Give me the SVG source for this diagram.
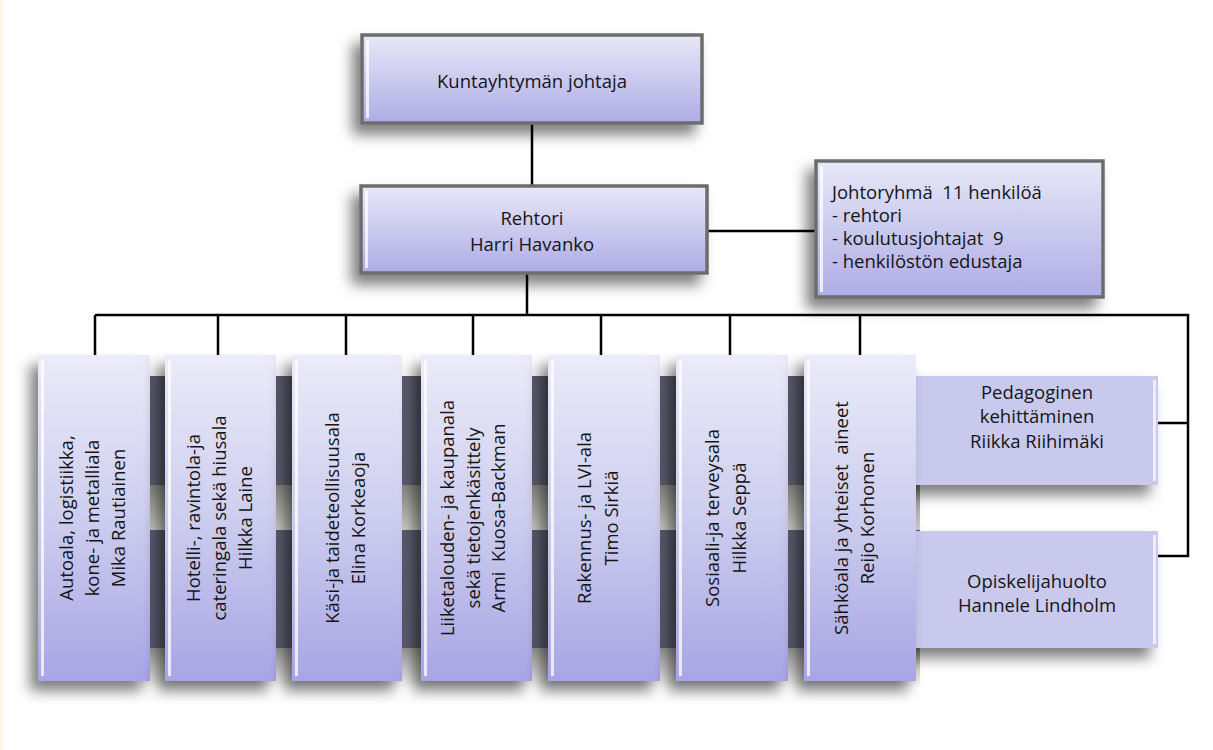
<svg xmlns="http://www.w3.org/2000/svg" width="1213" height="750" viewBox="0 0 1213 750">
<style>
text{font-family:"Open Sans","Noto Sans","Liberation Sans",sans-serif;font-size:18.5px;fill:#151515}
.c{text-anchor:middle}
.conn{fill:none;stroke:#000;stroke-width:2.5}
.hi{fill:#fff;opacity:.75}
</style>
<defs>
<linearGradient id="gv" x1="0" y1="0" x2="0" y2="1">
<stop offset="0" stop-color="#ebebf9"/>
<stop offset="0.5" stop-color="#cdcdef"/>
<stop offset="1" stop-color="#a7a5e4"/>
</linearGradient>
<linearGradient id="gh" x1="0" y1="0" x2="0" y2="1">
<stop offset="0" stop-color="#e8e8f8"/>
<stop offset="1" stop-color="#aeace6"/>
</linearGradient>
<linearGradient id="gs" x1="0" y1="0" x2="0" y2="1">
<stop offset="0" stop-color="#8a8a84"/>
<stop offset="1" stop-color="#d2d2cc"/>
</linearGradient>
<linearGradient id="gs2" x1="0" y1="0" x2="0" y2="1">
<stop offset="0" stop-color="#9a9a94"/>
<stop offset="1" stop-color="#ffffff"/>
</linearGradient>
<filter id="sh" x="-30%" y="-30%" width="160%" height="160%">
<feDropShadow dx="-8" dy="10" stdDeviation="7" flood-color="#000" flood-opacity="0.5"/>
</filter>
</defs>
<rect width="1213" height="750" fill="#fff"/>
<rect x="0" y="0" width="3" height="750" fill="#fdf6e6"/>

<g id="bands">
<rect x="140" y="376" width="780" height="109" fill="#5e5e72"/>
<rect x="140" y="485" width="780" height="45" fill="url(#gs)"/>
<rect x="140" y="530" width="780" height="118" fill="#5e5e72"/>
<rect x="140" y="648" width="780" height="40" fill="url(#gs2)"/>
</g>

<g id="connectors">
<path class="conn" d="M532,123V187"/>
<path class="conn" d="M527,273V315"/>
<path class="conn" d="M708,231H815"/>
<path class="conn" d="M95,315H1188V556H1158"/>
<path class="conn" d="M1153,423H1188"/>
<path class="conn" d="M95,315V355M218,315V355M346,315V355M473,315V355M601,315V355M730,315V355M860,315V355"/>
</g>

<g id="n-johtaja">
<rect x="362" y="35" width="340" height="88" fill="url(#gh)" stroke="#6c6c6c" stroke-width="3.5" filter="url(#sh)"/>
<rect class="hi" x="366" y="40" width="3" height="78"/>
<text class="c" x="532" y="88">Kuntayhtymän johtaja</text>
</g>

<g id="n-rehtori">
<rect x="361" y="186" width="346" height="87" fill="url(#gh)" stroke="#6c6c6c" stroke-width="3.5" filter="url(#sh)"/>
<rect class="hi" x="365" y="191" width="3" height="77"/>
<text class="c" x="532" y="225">Rehtori</text>
<text class="c" x="532" y="251">Harri Havanko</text>
</g>

<g id="n-johtoryhma">
<rect x="816" y="161" width="287" height="136" fill="url(#gh)" stroke="#6c6c6c" stroke-width="3.5" filter="url(#sh)"/>
<rect class="hi" x="820" y="166" width="3" height="126"/>
<text x="832" y="199" xml:space="preserve">Johtoryhmä  11 henkilöä</text>
<text x="832" y="222">- rehtori</text>
<text x="832" y="245" xml:space="preserve">- koulutusjohtajat  9</text>
<text x="832" y="268">- henkilöstön edustaja</text>
</g>

<g id="n-pedagoginen">
<rect x="900" y="376" width="258" height="109" fill="#c9c9ee" filter="url(#sh)"/>
<rect x="1153" y="380" width="3" height="101" fill="#ececfa"/>
<text class="c" x="1037" y="399">Pedagoginen</text>
<text class="c" x="1037" y="423">kehittäminen</text>
<text class="c" x="1037" y="448">Riikka Riihimäki</text>
</g>

<g id="n-opiskelijahuolto">
<rect x="900" y="531" width="258" height="117" fill="#c9c9ee" filter="url(#sh)"/>
<rect x="1153" y="535" width="3" height="109" fill="#ececfa"/>
<text class="c" x="1037" y="588">Opiskelijahuolto</text>
<text class="c" x="1037" y="612">Hannele Lindholm</text>
</g>

<g id="n-autoala">
<rect x="38" y="355" width="112" height="326" fill="url(#gv)" filter="url(#sh)"/>
<rect class="hi" x="41" y="360" width="3" height="316"/>
<g transform="translate(94,518) rotate(-90)">
<text class="c" x="0" y="-21">Autoala, logistiikka,</text>
<text class="c" x="0" y="5">kone- ja metalliala</text>
<text class="c" x="0" y="31">Mika Rautiainen</text>
</g>
</g>

<g id="n-hotelli">
<rect x="165" y="355" width="111" height="326" fill="url(#gv)" filter="url(#sh)"/>
<rect class="hi" x="168" y="360" width="3" height="316"/>
<g transform="translate(221,518) rotate(-90)">
<text class="c" x="0" y="-21">Hotelli-, ravintola-ja</text>
<text class="c" x="0" y="5">cateringala sekä hiusala</text>
<text class="c" x="0" y="31">Hilkka Laine</text>
</g>
</g>

<g id="n-kasi">
<rect x="292" y="355" width="110" height="326" fill="url(#gv)" filter="url(#sh)"/>
<rect class="hi" x="295" y="360" width="3" height="316"/>
<g transform="translate(347,518) rotate(-90)">
<text class="c" x="0" y="-8">Käsi-ja taideteollisuusala</text>
<text class="c" x="0" y="18">Elina Korkeaoja</text>
</g>
</g>

<g id="n-liiketalous">
<rect x="421" y="355" width="111" height="326" fill="url(#gv)" filter="url(#sh)"/>
<rect class="hi" x="424" y="360" width="3" height="316"/>
<g transform="translate(476,518) rotate(-90)">
<text class="c" x="0" y="-22">Liiketalouden- ja kaupanala</text>
<text class="c" x="0" y="4">sekä tietojenkäsittely</text>
<text class="c" x="0" y="29" xml:space="preserve">Armi  Kuosa-Backman</text>
</g>
</g>

<g id="n-rakennus">
<rect x="548" y="355" width="112" height="326" fill="url(#gv)" filter="url(#sh)"/>
<rect class="hi" x="551" y="360" width="3" height="316"/>
<g transform="translate(604,518) rotate(-90)">
<text class="c" x="0" y="-13">Rakennus- ja LVI-ala</text>
<text class="c" x="0" y="14">Timo Sirkiä</text>
</g>
</g>

<g id="n-sosiaali">
<rect x="676" y="355" width="112" height="326" fill="url(#gv)" filter="url(#sh)"/>
<rect class="hi" x="679" y="360" width="3" height="316"/>
<g transform="translate(732,518) rotate(-90)">
<text class="c" x="0" y="-13">Sosiaali-ja terveysala</text>
<text class="c" x="0" y="14">Hilkka Seppä</text>
</g>
</g>

<g id="n-sahkoala">
<rect x="804" y="355" width="112" height="326" fill="url(#gv)" filter="url(#sh)"/>
<rect class="hi" x="807" y="360" width="3" height="316"/>
<g transform="translate(860,518) rotate(-90)">
<text class="c" x="0" y="-12" xml:space="preserve">Sähköala ja yhteiset  aineet</text>
<text class="c" x="0" y="14">Reijo Korhonen</text>
</g>
</g>
</svg>
